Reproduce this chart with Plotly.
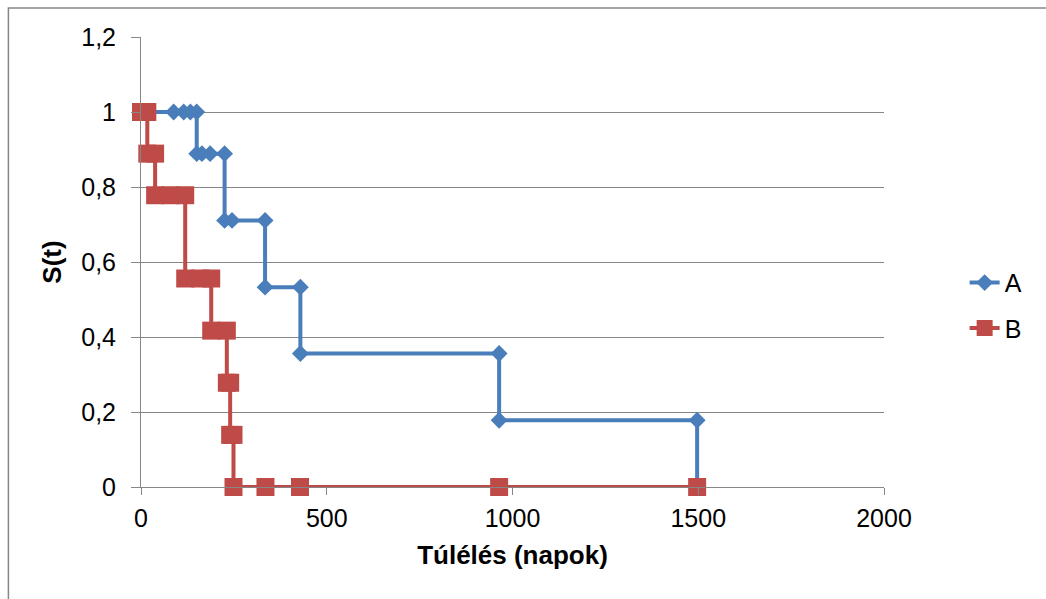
import plotly.graph_objects as go

# Kaplan-Meier step curves: each step is given by both of its corner points
a_days = [0, 88, 115, 133, 150, 150, 164, 186, 225, 225, 245, 334, 334, 429, 429, 964, 964, 1497, 1497]
a_surv = [1, 1, 1, 1, 1, 0.889, 0.889, 0.889, 0.889, 0.711, 0.711, 0.711, 0.533, 0.533, 0.356, 0.356,
          0.178, 0.178, 0]

b_days = [0, 17, 17, 38, 38, 79, 119, 119, 160, 189, 189, 231, 231, 240, 240, 249, 249, 335, 428, 964, 1497]
b_surv = [1, 1, 0.889, 0.889, 0.778, 0.778, 0.778, 0.556, 0.556, 0.556, 0.417, 0.417, 0.278, 0.278,
          0.139, 0.139, 0, 0, 0, 0, 0]

x_ticks = [0, 500, 1000, 1500, 2000]
x_tick_labels = ["0", "500", "1000", "1500", "2000"]
y_ticks = [0, 0.2, 0.4, 0.6, 0.8, 1.0, 1.2]
y_tick_labels = ["0", "0,2", "0,4", "0,6", "0,8", "1", "1,2"]

BLUE = "#4A7EBB"
RED = "#BE4B48"
GRID = "#868686"
FONT = "Liberation Sans, Arial, sans-serif"

fig = go.Figure()
fig.add_trace(go.Scatter(
    x=a_days, y=a_surv, name="A", mode="lines+markers",
    line=dict(color=BLUE, width=4),
    marker=dict(symbol="diamond", size=13, color=BLUE),
    cliponaxis=False, legendgroup="A",
))
fig.add_trace(go.Scatter(
    x=b_days, y=b_surv, name="B", mode="lines+markers",
    line=dict(color=RED, width=4),
    marker=dict(symbol="square", size=18, color=RED),
    cliponaxis=False, legendgroup="B",
))

L, R, T, B = 140.7, 161.7, 37, 111.7
W, H = 1046, 599
pw, ph = W - L - R, H - T - B

# chart frame (top and left edges visible)
fig.add_shape(type="rect", xref="paper", yref="paper",
              x0=(8 - L) / pw, x1=(W + 20 - L) / pw,
              y0=(H - B - (H + 20)) / ph, y1=(H - B - 8) / ph,
              line=dict(color=GRID, width=1.5), fillcolor="rgba(0,0,0,0)", layer="below")

fig.update_layout(
    width=W, height=H,
    margin=dict(l=L, r=R, t=T, b=B, pad=0),
    paper_bgcolor="white", plot_bgcolor="white",
    font=dict(family=FONT, size=25, color="black"),
    showlegend=True,
    legend=dict(x=(965 - L) / pw, xanchor="left", y=(H - B - 260) / ph, yanchor="top",
                font=dict(size=25), tracegroupgap=10, bgcolor="rgba(0,0,0,0)"),
    xaxis=dict(
        range=[0, 2000], tickvals=x_ticks, ticktext=x_tick_labels,
        showgrid=False, zeroline=False, showline=True, linecolor=GRID, linewidth=1,
        ticks="outside", ticklen=7, tickcolor=GRID, tickwidth=1, ticklabelstandoff=2,
        title=dict(text="<b>Túlélés (napok)</b>", font=dict(size=26), standoff=14),
        fixedrange=True,
    ),
    yaxis=dict(
        range=[0, 1.2], tickvals=y_ticks, ticktext=y_tick_labels,
        showgrid=True, gridcolor=GRID, gridwidth=1, zeroline=False,
        showline=True, linecolor=GRID, linewidth=1,
        ticks="outside", ticklen=9, tickcolor=GRID, tickwidth=1, ticklabelstandoff=10,
        title=dict(text="<b>S(t)</b>", font=dict(size=26), standoff=12),
        fixedrange=True,
    ),
)

fig.write_html("out.html")
